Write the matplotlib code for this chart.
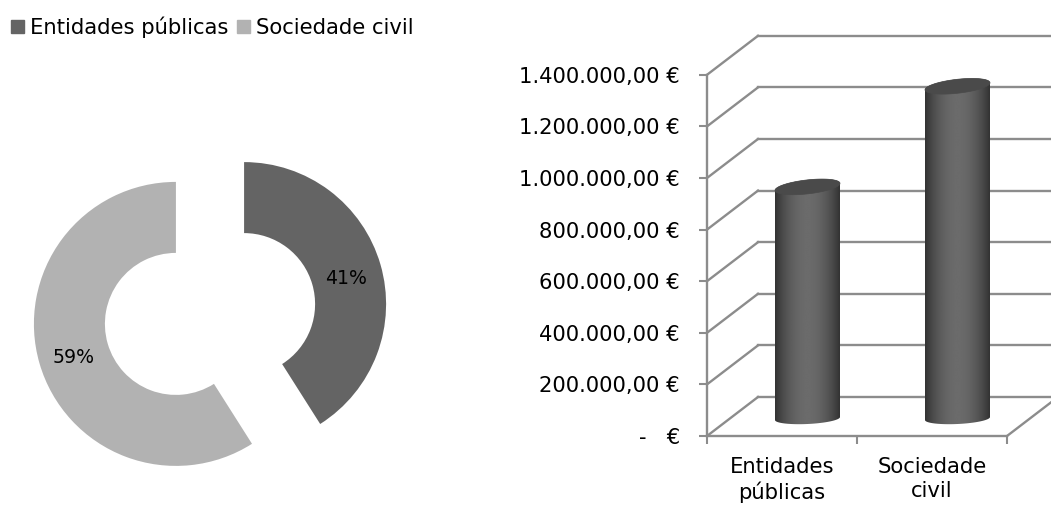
#!/usr/bin/env python3

import numpy as np
import matplotlib
matplotlib.use( "Agg" )
import matplotlib.pyplot as plt
from matplotlib.patches import PathPatch, Patch
from matplotlib.path import Path

categories = [ "Entidades públicas", "Sociedade civil" ]
bar_labels = [ "Entidades\npúblicas", "Sociedade\ncivil" ]
shares = [ 41, 59 ]
totals = [ 890000, 1280000 ]
y_ticks = [ 0, 200000, 400000, 600000, 800000, 1000000, 1200000, 1400000 ]
y_labels = [ "-   €", "200.000,00 €", "400.000,00 €", "600.000,00 €", "800.000,00 €",
             "1.000.000,00 €", "1.200.000,00 €", "1.400.000,00 €" ]

W = 1051
H = 505
DARK = "#646464"
LIGHT = "#b2b2b2"
GRID = "#8c8c8c"
FONT = 15.2

plt.rcParams['font.family'] = [ "DejaVu Sans" ]

def px_axes( fig, left, top, right, bottom ):
    return fig.add_axes( [ left/W, 1 - bottom/H, (right-left)/W, (bottom-top)/H ] )

def draw_pie( fig ):
    ax = px_axes( fig, 0, 124, 420, 504 )
    wedges, texts, pcts = ax.pie( shares, colors=[ DARK, LIGHT ], explode=[ 0.25, 0.25 ],
                                  startangle=90, counterclock=False, radius=1,
                                  wedgeprops={ 'width': 0.5 }, autopct="%.0f%%", pctdistance=0.75,
                                  textprops={ 'fontsize': 13.6, 'color': 'black' } )
    for p in pcts:
        x, y = p.get_position()
        p.set_position( ( x, y - 4/142 ) )
    ax.set_xlim( -210/142, 210/142 )
    ax.set_ylim( -190/142, 190/142 )
    return wedges

def draw_cylinder( ax, center, value, px_x, px_y, depth_y ):
    rx = 32.5 / px_x
    t = np.linspace( 0, 2*np.pi, 121 )
    base_y = depth_y / 2 - 2 / px_y
    top_y = value + depth_y / 2

    def ring( y0, theta, ry, tilt ):
        xs = center + rx * np.cos( theta )
        ys = y0 + ( ry * np.sin( theta ) + tilt * np.cos( theta ) ) / px_y
        return np.column_stack( [ xs, ys ] )

    # body outline, lower half of the base then upper edge of the top
    lower = ring( base_y, np.linspace( np.pi, 2*np.pi, 60 ), 5.5, 1.5 )
    upper = ring( top_y, np.linspace( 0, np.pi, 60 ), 7, 3.5 )
    body = Path( np.vstack( [ lower, upper, lower[:1] ] ) )
    clip = PathPatch( body, transform=ax.transData, fc='none', ec='none' )
    ax.add_patch( clip )

    shade = np.abs( np.linspace( -1, 1, 128 ) )
    shade = 0.42 - 0.22 * shade ** 2
    img = ax.imshow( shade[None, :], cmap="gray", vmin=0, vmax=1, aspect='auto', zorder=3,
                     extent=( center-rx, center+rx, 0, top_y + 10/px_y ), interpolation='bilinear' )
    img.set_clip_path( clip )

    cap = Path( ring( top_y, t, 7, 3.5 ) )
    ax.add_patch( PathPatch( cap, fc="#4a4a4a", ec="#4a4a4a", lw=0.5, zorder=4 ) )

def draw_bars( fig ):
    ax = px_axes( fig, 707, 36, 1051, 436 )
    px_x = 150.0
    px_y = 51.6 / 200000
    x_end = 2.0
    depth_x = 51 / px_x
    depth_y = 39 / px_y

    # back wall and side wall lines
    for v in y_ticks:
        ax.plot( [ 0, depth_x ], [ v, v+depth_y ], color=GRID, lw=1.7, clip_on=False, zorder=1 )
        ax.plot( [ depth_x, x_end+depth_x ], [ v+depth_y, v+depth_y ], color=GRID, lw=1.7, clip_on=False, zorder=1 )
    ax.plot( [ x_end, x_end+depth_x ], [ 0, depth_y ], color=GRID, lw=1.7, clip_on=False, zorder=1 )

    centers = [ 0.5 + depth_x/2, 1.5 + depth_x/2 ]
    for i in range( len(totals) ):
        draw_cylinder( ax, centers[i], totals[i], px_x, px_y, depth_y )
    ax.set_xlim( 0, 344 / px_x )
    ax.set_ylim( 0, 400 / px_y )

    for s in [ 'top', 'right' ]:
        ax.spines[s].set_visible( False )
    ax.spines['left'].set_bounds( 0, y_ticks[-1] )
    ax.spines['bottom'].set_bounds( 0, x_end )
    for s in [ 'left', 'bottom' ]:
        ax.spines[s].set_color( GRID )
        ax.spines[s].set_linewidth( 1.7 )
    ax.patch.set_visible( False )

    ax.set_yticks( y_ticks )
    ax.set_yticklabels( y_labels, fontsize=FONT )
    ax.set_xticks( [ 0, 1, 2 ] )
    ax.set_xticklabels( [] )
    ax.tick_params( axis='both', color=GRID, length=5.5, width=1.5 )
    ax.tick_params( axis='y', pad=14 )

    for i in range( len(bar_labels) ):
        ax.annotate( bar_labels[i], xy=( i+0.5, 0 ), xycoords=( 'data', 'axes fraction' ),
                     xytext=( 0, -15 ), textcoords='offset points', ha='center', va='top',
                     fontsize=FONT, linespacing=1.25 )

def main():
    fig = plt.figure( figsize=(W/100, H/100), dpi=100 )
    wedges = draw_pie( fig )
    draw_bars( fig )

    handles = [ Patch( color=DARK ), Patch( color=LIGHT ) ]
    fig.legend( handles, categories, loc='upper left', bbox_to_anchor=( 7/W, 1 - 12/H ), ncol=2,
                frameon=False, fontsize=FONT, handlelength=0.6, handleheight=0.6,
                handletextpad=0.3, columnspacing=0.4, borderpad=0.2, borderaxespad=0 )

    fig.savefig( "out.png", dpi=100 )

if __name__ == "__main__":
    main()
